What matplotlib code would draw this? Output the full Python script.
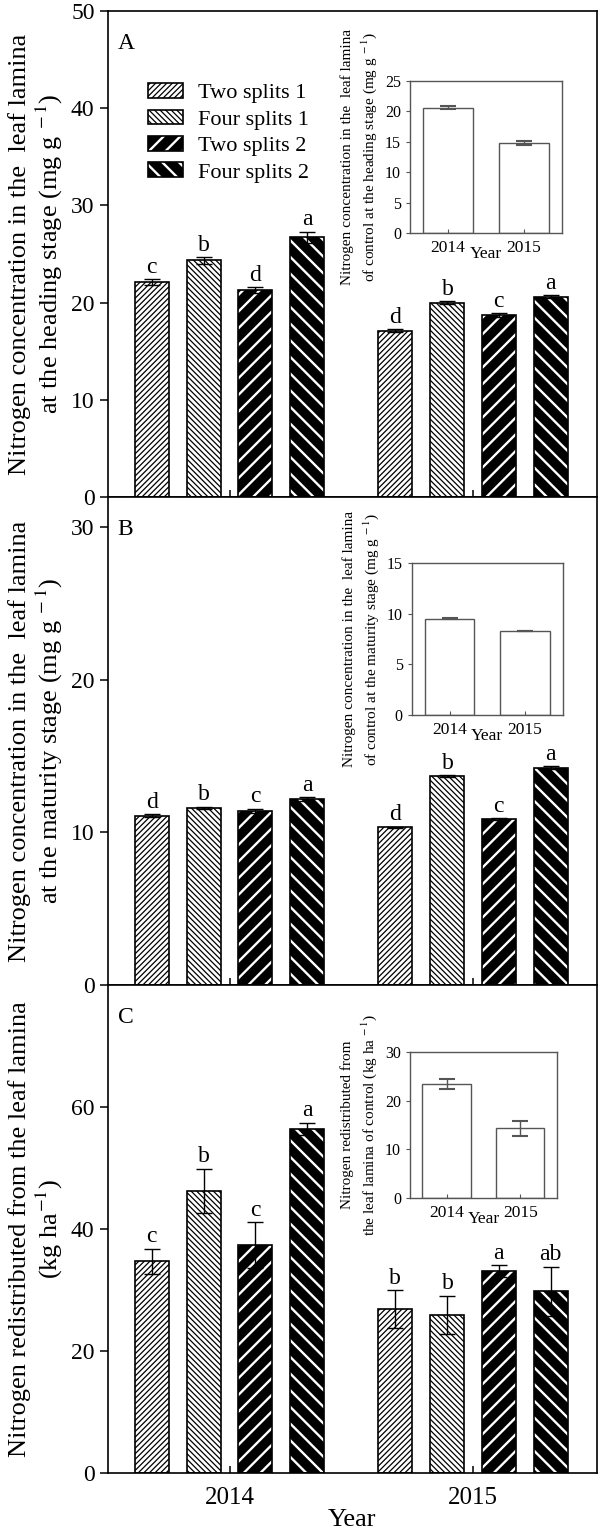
import numpy as np
import matplotlib
matplotlib.use('Agg')
import matplotlib.pyplot as plt
from matplotlib.patches import Patch, Rectangle

plt.rcParams['font.family'] = ['Liberation Serif', 'DejaVu Serif']
plt.rcParams['mathtext.fontset'] = 'stix'
plt.rcParams['axes.linewidth'] = 1.2

# ---- data ----
years = ['2014', '2015']
treatments = ['Two splits 1', 'Four splits 1', 'Two splits 2', 'Four splits 2']

heading_vals = [[22.1, 24.35, 21.3, 26.7], [17.1, 20.0, 18.7, 20.6]]
heading_err = [[0.3, 0.35, 0.3, 0.6], [0.15, 0.15, 0.2, 0.15]]
heading_sig = [['c', 'b', 'd', 'a'], ['d', 'b', 'c', 'a']]

maturity_vals = [[11.1, 11.6, 11.4, 12.2], [10.33, 13.68, 10.9, 14.25]]
maturity_err = [[0.1, 0.08, 0.15, 0.12], [0.06, 0.06, 0.05, 0.1]]
maturity_sig = [['d', 'b', 'c', 'a'], ['d', 'b', 'c', 'a']]

redist_vals = [[34.7, 46.3, 37.4, 56.4], [26.9, 25.96, 33.1, 29.8]]
redist_err = [[2.1, 3.6, 3.75, 1.0], [3.1, 3.1, 1.0, 4.05]]
redist_sig = [['c', 'b', 'c', 'a'], ['b', 'b', 'a', 'ab']]

ctrl_heading = [20.6, 14.8]
ctrl_heading_err = [0.3, 0.3]
ctrl_maturity = [9.5, 8.3]
ctrl_maturity_err = [0.05, 0.0]
ctrl_redist = [23.5, 14.3]
ctrl_redist_err = [1.0, 1.5]

# ---- styles ----
faces = ['white', 'white', 'black', 'black']
hatch_cols = ['black', 'black', 'white', 'white']
hatches = ['//////', '\\\\\\\\\\\\', '//', '\\\\']
hatch_lws = [0.9, 0.9, 1.7, 1.7]
hatch_lw_map = dict(zip(hatches, hatch_lws))
offsets = [-0.319, -0.105, 0.105, 0.319]
width = 0.14


def set_hlw(patch, lw):
    if hasattr(patch, 'set_hatch_linewidth'):
        patch.set_hatch_linewidth(lw)


def main_panel(ax, vals, errs, sigs, ylim, yticks, ylabel, letter):
    x = np.arange(len(years))
    for i in range(4):
        v = [vals[g][i] for g in range(2)]
        e = [errs[g][i] for g in range(2)]
        plt.rcParams['hatch.linewidth'] = hatch_lws[i]
        bars = ax.bar(x + offsets[i], v, width, color=faces[i],
                      edgecolor=hatch_cols[i], hatch=hatches[i], linewidth=0, zorder=2)
        for b in bars:
            set_hlw(b, hatch_lws[i])
        ax.bar(x + offsets[i], v, width, fill=False, edgecolor='black',
               linewidth=1.2, zorder=3)
        ax.errorbar(x + offsets[i], v, yerr=e, fmt='none', ecolor='black',
                    elinewidth=1.0, capsize=5.5, capthick=1.0, zorder=4)
        for g in range(2):
            ax.annotate(sigs[g][i], (x[g] + offsets[i], v[g] + e[g]),
                        xytext=(0, 1), textcoords='offset points',
                        ha='center', va='bottom', fontsize=17)
    ax.set_xlim(-0.5, 1.51)
    ax.set_ylim(*ylim)
    ax.set_yticks(yticks)
    ax.set_xticks(x)
    ax.tick_params(axis='y', direction='out', length=6, width=1.1, labelsize=17)
    ax.tick_params(axis='x', direction='in', length=5, width=1.1, labelsize=18, pad=10)
    ax.set_ylabel(ylabel, fontsize=19, linespacing=1.15, labelpad=4)
    ax.text(0.02, 0.955, letter, transform=ax.transAxes, fontsize=17,
            ha='left', va='top')


def inset_panel(ax, vals, errs, ylim, yticks, ylabel):
    x = np.arange(len(years))
    ax.bar(x, vals, 0.66, color='white', edgecolor='#555555', linewidth=1.0)
    e = np.array(errs)
    ax.errorbar(x, vals, yerr=e, fmt='none', ecolor='#555555',
                elinewidth=1.0, capsize=6, capthick=1.5)
    ax.set_xlim(-0.5, 1.5)
    ax.set_ylim(*ylim)
    ax.set_yticks(yticks)
    ax.set_xticks(x)
    ax.set_xticklabels(years)
    for s in ax.spines.values():
        s.set_color('#555555')
        s.set_linewidth(1.0)
    ax.tick_params(axis='y', direction='out', length=3, color='#555555', labelsize=11.5)
    ax.tick_params(axis='x', direction='in', length=3, color='#555555', labelsize=12.5, pad=5)
    ax.set_xlabel('Year', fontsize=12.5, labelpad=-7)
    ax.set_ylabel(ylabel, fontsize=11, linespacing=1.4, labelpad=4)


fig = plt.figure(figsize=(6.02, 15.33), dpi=100)
axA = fig.add_axes([0.179, 0.6758, 0.813, 0.3170])
axB = fig.add_axes([0.179, 0.3575, 0.813, 0.3183])
axC = fig.add_axes([0.179, 0.0391, 0.813, 0.3184])

main_panel(axA, heading_vals, heading_err, heading_sig, (0, 50), [0, 10, 20, 30, 40, 50],
           'Nitrogen concentration in the  leaf lamina\nat the heading stage (mg g$^{\\ -1}$)', 'A')
main_panel(axB, maturity_vals, maturity_err, maturity_sig, (0, 32), [0, 10, 20, 30],
           'Nitrogen concentration in the  leaf lamina\nat the maturity stage (mg g$^{\\ -1}$)', 'B')
main_panel(axC, redist_vals, redist_err, redist_sig, (0, 80), [0, 20, 40, 60],
           'Nitrogen redistributed from the leaf lamina\n(kg ha$^{-1}$)', 'C')
axA.set_xticklabels([])
axB.set_xticklabels([])
axC.set_xticklabels(years)
axC.set_xlabel('Year', fontsize=19, labelpad=0)

# legend with overlaid face + outline patches
handles = []
for i in range(4):
    p1 = Patch(facecolor=faces[i], edgecolor=hatch_cols[i], hatch=hatches[i], linewidth=0)
    p2 = Patch(fill=False, edgecolor='black', linewidth=1.2)
    handles.append((p1, p2))
leg = axA.legend(handles, treatments, loc='upper left', bbox_to_anchor=(0.065, 0.87),
                 frameon=False, fontsize=16, handlelength=1.55, handleheight=0.65,
                 labelspacing=0.28, handletextpad=0.7, borderaxespad=0)
for r in leg.findobj(Rectangle):
    h = r.get_hatch()
    if h in hatch_lw_map:
        set_hlw(r, hatch_lw_map[h])

plt.rcParams['hatch.linewidth'] = 1.0
insA = fig.add_axes([0.681, 0.848, 0.2525, 0.0993])
inset_panel(insA, ctrl_heading, ctrl_heading_err, (0, 25), [0, 5, 10, 15, 20, 25],
            'Nitrogen concentration in the  leaf lamina\nof control at the heading stage (mg g$^{\\ -1}$)')
insB = fig.add_axes([0.684, 0.5336, 0.251, 0.0992])
inset_panel(insB, ctrl_maturity, ctrl_maturity_err, (0, 15), [0, 5, 10, 15],
            'Nitrogen concentration in the  leaf lamina\nof control at the maturity stage (mg g$^{\\ -1}$)')
insC = fig.add_axes([0.681, 0.2185, 0.244, 0.0952])
inset_panel(insC, ctrl_redist, ctrl_redist_err, (0, 30), [0, 10, 20, 30],
            'Nitrogen redistributed from\nthe leaf lamina of control (kg ha$^{\\ -1}$)')

fig.savefig('out.png', dpi=100)
